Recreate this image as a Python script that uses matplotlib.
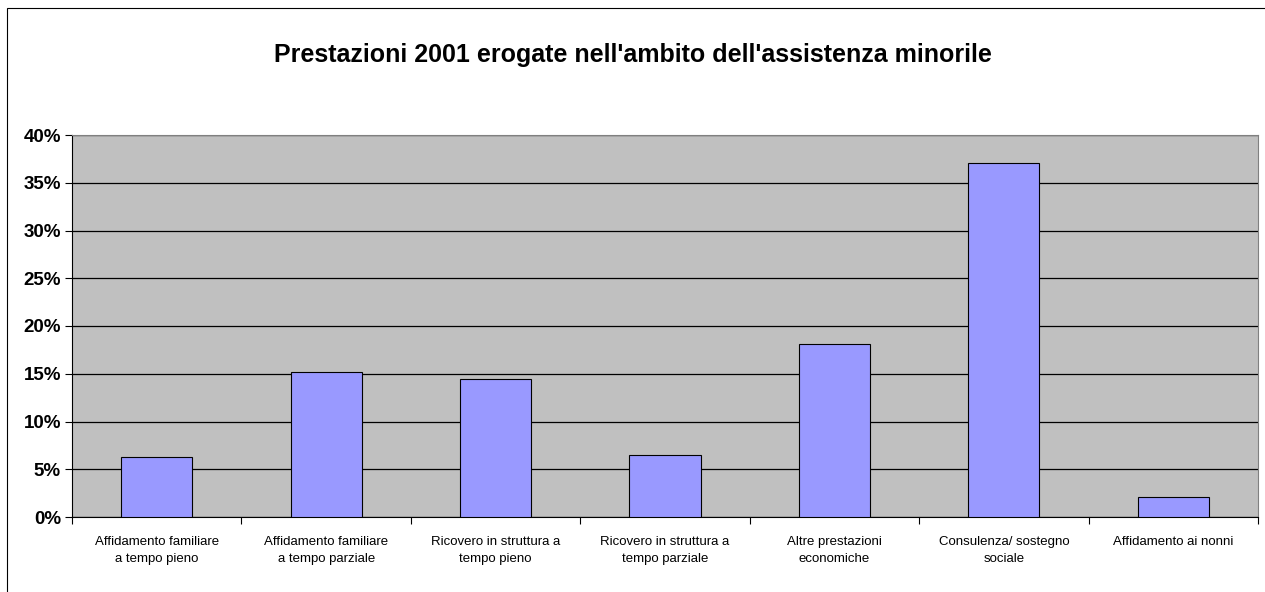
import matplotlib
matplotlib.use('Agg')
import matplotlib.pyplot as plt
from matplotlib.patches import Rectangle
from matplotlib.ticker import FuncFormatter, MultipleLocator

categories = ['Affidamento familiare\na tempo pieno',
              'Affidamento familiare\na tempo parziale',
              'Ricovero in struttura a\ntempo pieno',
              'Ricovero in struttura a\ntempo parziale',
              'Altre prestazioni\neconomiche',
              'Consulenza/ sostegno\nsociale',
              'Affidamento ai nonni']
values = [6.3, 15.2, 14.5, 6.5, 18.1, 37.1, 2.1]  # percent

plt.rcParams['font.family'] = ['Liberation Sans', 'DejaVu Sans']

fig = plt.figure(figsize=(12.65, 5.92), dpi=100)
ax = fig.add_axes([72/1265, 75/592, 1186/1265, 382/592])

# outer chart border (only left and top visible in the original)
fig.patches.append(Rectangle((7/1265, -10/592), 1275/1265, 594/592, transform=fig.transFigure,
                             fill=False, edgecolor='black', linewidth=0.8))

ax.set_facecolor('#C0C0C0')
x = range(len(categories))
ax.bar(x, values, width=0.42, color='#9999FF', edgecolor='black', linewidth=0.8, zorder=3)

ax.set_xlim(-0.5, len(categories) - 0.5)
ax.set_ylim(0, 40)
ax.yaxis.set_major_locator(MultipleLocator(5))
ax.yaxis.set_major_formatter(FuncFormatter(lambda v, p: '%d%%' % v))
ax.grid(axis='y', color='black', linewidth=0.9, zorder=1)
ax.set_axisbelow(True)

ax.set_xticks([i - 0.5 for i in range(len(categories) + 1)])
ax.set_xticklabels([])
ax.set_xticks(list(x), minor=True)
ax.set_xticklabels(categories, minor=True, fontsize=9.5, linespacing=1.55)
ax.tick_params(axis='x', which='minor', length=0, pad=14)
ax.tick_params(axis='x', which='major', length=5, direction='out', color='black')
ax.tick_params(axis='y', length=5, direction='out', labelsize=13.5, pad=3)
for lbl in ax.get_yticklabels():
    lbl.set_fontweight('bold')

for s in ['top', 'right']:
    ax.spines[s].set_color('#808080')
for s in ['left', 'bottom']:
    ax.spines[s].set_color('black')

fig.text(0.5, 1 - 55/592, "Prestazioni 2001 erogate nell'ambito dell'assistenza minorile",
         ha='center', va='center', fontsize=18, fontweight='bold')

plt.savefig('out.png', dpi=100)
